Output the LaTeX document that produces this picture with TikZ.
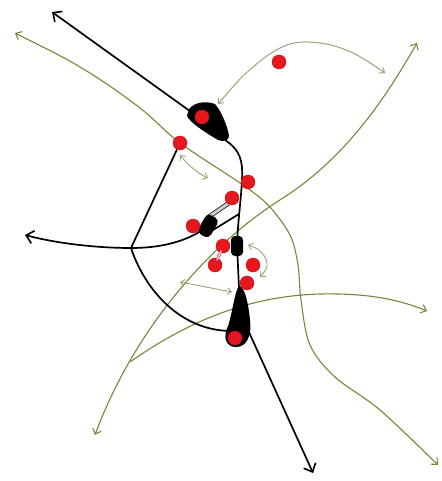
\documentclass[tikz,border=0pt]{standalone}
\usetikzlibrary{arrows.meta}
\definecolor{olive1}{RGB}{112,138,58}
\definecolor{olive2}{RGB}{150,166,118}
\definecolor{dotred}{RGB}{232,22,30}
\begin{document}
\begin{tikzpicture}[x=1pt,y=-1pt,
  blk/.style={line width=1.7pt,black},
  blkarrow/.style={blk,-{Straight Barb[length=7pt,width=13pt,line width=1.6pt]}},
  grn/.style={line width=1.1pt,olive1},
  gboth/.style={grn,{Straight Barb[length=5pt,width=9pt]}-{Straight Barb[length=5pt,width=9pt]}},
  gend/.style={grn,-{Straight Barb[length=5pt,width=9pt]}},
  small/.style={line width=0.9pt,olive2,{Straight Barb[length=4pt,width=7pt]}-{Straight Barb[length=4pt,width=7pt]}},
  dot/.style={circle,fill=dotred,draw=dotred!80!black,line width=0.4pt,minimum size=14pt,inner sep=0pt}]
\useasboundingbox (0,0) rectangle (441,481);
\fill[white] (0,0) rectangle (441,481);

% coordinates
\coordinate (tl) at (52,12);
\coordinate (tblob) at (194,114);
\coordinate (vx) at (131,248);
\coordinate (la) at (25,235);
\coordinate (bl) at (248,330);
\coordinate (br) at (313,473);
\coordinate (g2a) at (95,435);
\coordinate (g2m) at (283,198);
\coordinate (g2b) at (417,43);
\coordinate (g3a) at (130,362);
\coordinate (g3m) at (320,294);
\coordinate (g3b) at (427,311);

% green lines
\draw[gboth] plot[smooth,tension=0.55] coordinates {(15,33) (85,70) (140,108) (180,143) (240,183) (268,205) (290,235) (298,265) (301,300) (310,345) (335,377) (380,410) (438,465)};
\draw[gboth] (g2a) .. controls (130,340) and (200,250) .. (g2m) .. controls (350,155) and (390,90) .. (g2b);
\draw[gend] (g3a) .. controls (190,320) and (250,296) .. (g3m) .. controls (370,293) and (400,300) .. (g3b);
\draw[small,line width=1pt] plot[smooth,tension=0.6] coordinates {(218,104) (253,67) (287,45) (320,43) (353,53) (385,73)};
\draw[small] plot[smooth,tension=0.6] coordinates {(180,155) (188,164) (199,173) (208,178)};
\draw[small] plot[smooth,tension=0.7] coordinates {(248,245) (262,253) (267,266) (260,277)};
\draw[small] (180,282) -- (232,292);

% black lines
\draw[blkarrow] (tblob) -- (tl);
\draw[blk] (225,140) .. controls (240,150) and (243,160) .. (242,180) .. controls (241,200) and (238,220) .. (237,245) -- (239,288);
\draw[blkarrow] (bl) -- (br);
\draw[blkarrow] (vx) .. controls (95,248) and (55,243) .. (la);
\draw[blk] (vx) .. controls (160,248) and (185,242) .. (204,229);
\draw[blk] (vx) .. controls (145,290) and (180,330) .. (230,331);
\draw[blk] (213,230) -- (239,214);
\draw[black,line width=0.7pt,double=gray!40,double distance=3pt] (207,218) -- (229,203);

% black blobs
\fill[black] (188,112) .. controls (190,103) and (205,100) .. (215,104) .. controls (222,112) and (228,128) .. (229,136) .. controls (229,141) and (223,142) .. (218,140) .. controls (208,134) and (195,126) .. (190,120) .. controls (186,117) and (187,114) .. (188,112);
\fill[black,rotate around={-30:(208,226)}] (201,215) [rounded corners=5pt] rectangle (215,237);
\fill[black,rounded corners=4pt] (231,236) rectangle (243,256);
\fill[black] (239,286) .. controls (244,286) and (248,300) .. (250,320) .. controls (252,335) and (247,347) .. (236,347) .. controls (225,347) and (223,336) .. (228,326) .. controls (232,315) and (235,290) .. (239,286);

% red dots
\node[dot] (d1) at (279,62) {};
\node[dot] (d2) at (202,117) {};
\node[dot] (d3) at (180,143) {};
\node[dot] (d4) at (248,182) {};
\node[dot] (d5) at (232,198) {};
\node[dot] (d6) at (193,226) {};
\node[dot] (d7) at (223,246) {};
\node[dot] (d8) at (215,265) {};
\node[dot] (d9) at (253,265) {};
\node[dot] (d10) at (247,283) {};
\node[dot] (d11) at (235,338) {};

\draw[blk] (vx) -- (d3);
\draw[dotred!70!black,line width=0.4pt,double=pink,double distance=1.8pt,shorten <=5pt,shorten >=5pt] (d7.center) -- (d8.center);
\end{tikzpicture}
\end{document}
